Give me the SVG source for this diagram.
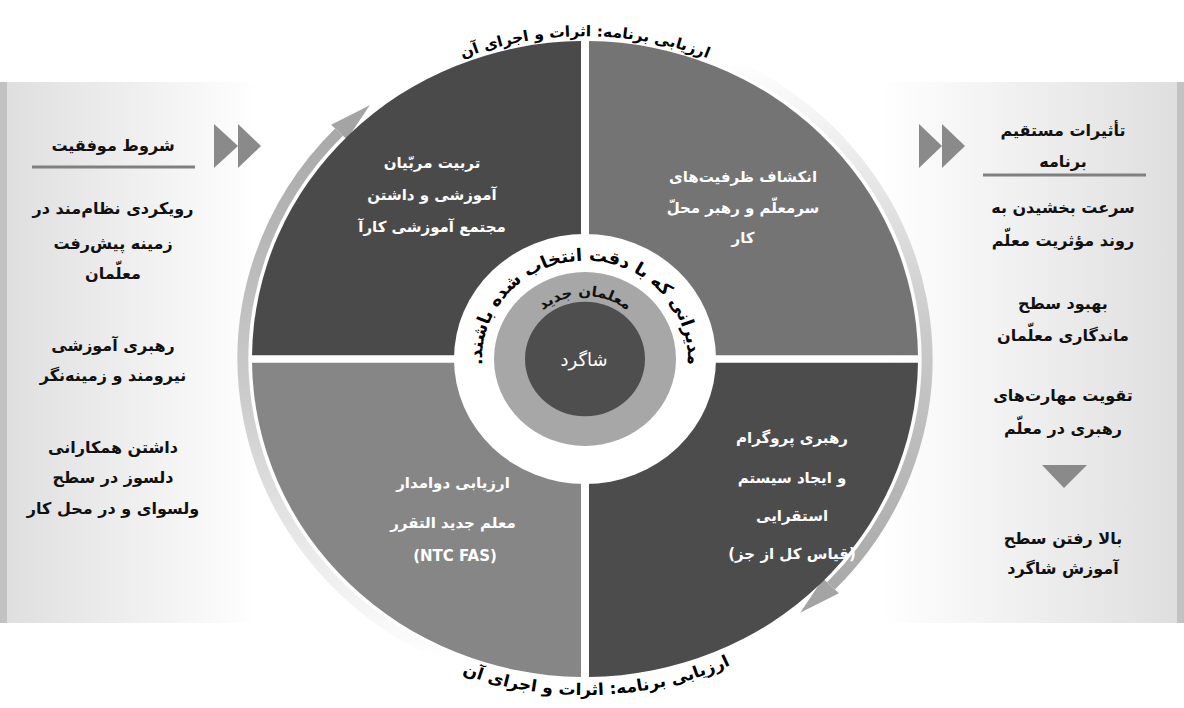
<svg xmlns="http://www.w3.org/2000/svg" width="1184" height="708" viewBox="0 0 1184 708">
<style>
.t{font-family:"DejaVu Sans",sans-serif;font-weight:bold;text-anchor:middle}
.k{fill:#111;font-size:16px}
.w{fill:#fff;font-size:15px}
.arr{fill:#8a8a8a}
.ul{stroke:#808080;stroke-width:3}
</style>
<defs>
<linearGradient id="lp" x1="0" y1="0" x2="1" y2="0">
<stop offset="0" stop-color="#dedede"/><stop offset="1" stop-color="#ffffff"/>
</linearGradient>
<linearGradient id="rp" x1="0" y1="0" x2="1" y2="0">
<stop offset="0" stop-color="#ffffff"/><stop offset="1" stop-color="#dedede"/>
</linearGradient>
<linearGradient id="ag" gradientUnits="userSpaceOnUse" x1="0" y1="-280" x2="0" y2="315">
<stop offset="0" stop-color="#a4a4a4"/><stop offset="0.55" stop-color="#cdcdcd"/><stop offset="1" stop-color="#ffffff"/>
</linearGradient>
<path id="pw" d="M -96.8,35.2 A 103 103 0 1 1 96.8,35.2"/>
<path id="pg" d="M -62,22.6 A 66 66 0 1 1 62,22.6"/>
<path id="ptop" d="M -292.7,-169 A 338 338 0 0 1 292.7,-169"/>
<path id="pbot" d="M -281.1,211.8 A 352 352 0 0 0 295.2,191.7"/>
</defs>

<g id="left-panel">
<rect x="0" y="82" width="260" height="541" fill="url(#lp)"/>
<rect x="0" y="82" width="7" height="541" fill="#c2c2c2"/>
<text class="t k" x="113" y="151">شروط موفقیت</text>
<line class="ul" x1="32" y1="167" x2="195" y2="167"/>
<polygon class="arr" points="214,124 238,146 214,168"/>
<polygon class="arr" points="238,124 261,146 238,168"/>
<text class="t k" x="113" y="214">رویکردی نظام‌مند در</text>
<text class="t k" x="113" y="249">زمینه پیش‌رفت</text>
<text class="t k" x="113" y="279">معلّمان</text>
<text class="t k" x="113" y="351">رهبری آموزشی</text>
<text class="t k" x="113" y="381">نیرومند و زمینه‌نگر</text>
<text class="t k" x="113" y="453">داشتن همکارانی</text>
<text class="t k" x="113" y="483">دلسوز در سطح</text>
<text class="t k" x="113" y="514">ولسوای و در محل کار</text>
</g>

<g id="right-panel">
<rect x="880" y="82" width="304" height="541" fill="url(#rp)"/>
<rect x="1177" y="82" width="7" height="541" fill="#c2c2c2"/>
<polygon class="arr" points="919,124 942,146 919,168"/>
<polygon class="arr" points="942,124 965,146 942,168"/>
<text class="t k" x="1063" y="136">تأثیرات مستقیم</text>
<text class="t k" x="1063" y="167">برنامه</text>
<line class="ul" x1="983" y1="175" x2="1146" y2="175"/>
<text class="t k" x="1063" y="213">سرعت بخشیدن به</text>
<text class="t k" x="1063" y="246">روند مؤثریت معلّم</text>
<text class="t k" x="1063" y="309">بهبود سطح</text>
<text class="t k" x="1063" y="341">ماندگاری معلّمان</text>
<text class="t k" x="1063" y="401">تقویت مهارت‌های</text>
<text class="t k" x="1063" y="434">رهبری در معلّم</text>
<polygon class="arr" points="1042,465 1087,465 1064,488"/>
<text class="t k" x="1063" y="544">بالا رفتن سطح</text>
<text class="t k" x="1063" y="574">آموزش شاگرد</text>
</g>

<g id="wheel" transform="translate(585,359) scale(1,0.955)">
<g id="connectors">
<g id="arc-left">
<path d="M -144.5,310 A 342 342 0 0 1 -246,-237.6" fill="none" stroke="url(#ag)" stroke-width="11"/>
<polygon points="-253.9,-245.2 -215.2,-265.8 -238.1,-229.9" fill="#a4a4a4"/>
</g>
<g id="arc-right" transform="rotate(180)">
<path d="M -144.5,310 A 342 342 0 0 1 -246,-237.6" fill="none" stroke="url(#ag)" stroke-width="11"/>
<polygon points="-253.9,-245.2 -215.2,-265.8 -238.1,-229.9" fill="#a4a4a4"/>
</g>
</g>
<g id="q-tl"><path d="M -4,-4 L -4,-332.98 A 333 333 0 0 0 -332.98,-4 Z" fill="#4a4a4a"/></g>
<g id="q-tr"><path d="M 4,-4 L 332.98,-4 A 333 333 0 0 0 4,-332.98 Z" fill="#747474"/></g>
<g id="q-br"><path d="M 4,4 L 4,332.98 A 333 333 0 0 0 332.98,4 Z" fill="#4c4c4c"/></g>
<g id="q-bl"><path d="M -4,4 L -332.98,4 A 333 333 0 0 0 -4,332.98 Z" fill="#868686"/></g>
<g id="ring-white">
<circle r="131" fill="#ffffff"/>
<text class="t" style="font-size:18px;fill:#000"><textPath href="#pw" startOffset="50%">مدیرانی که با دقت انتخاب شده باشند.&#x200F;</textPath></text>
</g>
<g id="ring-gray">
<circle r="91" fill="#a7a7a7"/>
<text class="t" style="font-size:15px;fill:#111"><textPath href="#pg" startOffset="50%">معلمان جدید</textPath></text>
</g>
<g id="core">
<circle r="60" fill="#4e4e4e"/>
</g>
<g id="label-top">
<text class="t" style="font-size:15.5px;fill:#000"><textPath href="#ptop" startOffset="50%">ارزیابی برنامه: اثرات و اجرای آن</textPath></text>
</g>
<g id="label-bottom">
<text class="t" style="font-size:17px;fill:#000"><textPath href="#pbot" startOffset="50%">ارزیابی برنامه: اثرات و اجرای آن</textPath></text>
</g>
</g>

<g id="center-label"><text class="t" x="584" y="366" style="font-size:18px;fill:#fff;font-weight:normal">شاگرد</text></g>

<g id="q-tl-text">
<text class="t w" x="432" y="168">تربیت مربّیان</text>
<text class="t w" x="432" y="200">آموزشی و داشتن</text>
<text class="t w" x="432" y="232">مجتمع آموزشی کارآ</text>
</g>
<g id="q-tr-text">
<text class="t w" x="743" y="182">انکشاف ظرفیت‌های</text>
<text class="t w" x="743" y="213">سرمعلّم و رهبر محلّ</text>
<text class="t w" x="743" y="243">کار</text>
</g>
<g id="q-bl-text">
<text class="t w" x="453" y="488">ارزیابی دوامدار</text>
<text class="t w" x="453" y="528">معلم جدید التقرر</text>
<text class="t w" x="455" y="561">(NTC FAS)</text>
</g>
<g id="q-br-text">
<text class="t w" x="792" y="443">رهبری پروگرام</text>
<text class="t w" x="792" y="483">و ایجاد سیستم</text>
<text class="t w" x="792" y="521">استقرایی</text>
<text class="t w" x="792" y="559">&#x200F;(قیاس کل از جز)&#x200F;</text>
</g>
</svg>
